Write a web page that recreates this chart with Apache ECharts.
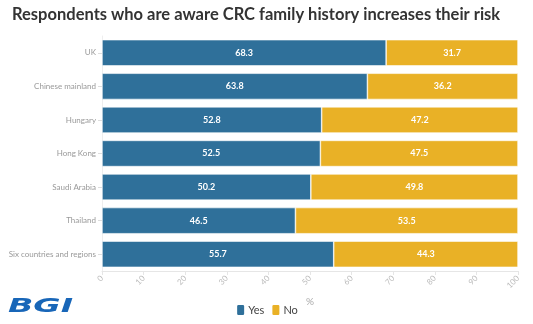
<!DOCTYPE html>
<html><head><meta charset="utf-8">
<script src="https://cdn.jsdelivr.net/npm/echarts@6/dist/echarts.min.js"></script>
<style>html,body{margin:0;padding:0;background:#fff}#c{width:533px;height:324px}</style>
</head><body><div id="c"></div>
<script>
const categories = ["UK","Chinese mainland","Hungary","Hong Kong","Saudi Arabia","Thailand","Six countries and regions"];
const yesValues = [68.3,63.8,52.8,52.5,50.2,46.5,55.7];
const noValues = [31.7,36.2,47.2,47.5,49.8,53.5,44.3];
const xTicks = [0,10,20,30,40,50,60,70,80,90,100];

const chart = echarts.init(document.getElementById('c'));
const lbl = {show:true, position:'inside', color:'#fff', fontWeight:'bold', fontSize:9, fontFamily:'Lato', formatter:p=>p.value.toFixed(1)};
chart.setOption({
  animation:false,
  title:{text:'Respondents who are aware CRC family history increases their risk', left:7, top:1,
    textStyle:{fontFamily:'Lato', fontWeight:'bold', fontSize:16.5, color:'#333'}},
  grid:{left:102, right:15, top:36, bottom:53, containLabel:false, outerBoundsMode:'none'},
  legend:{bottom:2, left:'center', itemWidth:9, itemHeight:12, itemGap:6,
    textStyle:{fontFamily:'Lato', fontSize:11, color:'#444', padding:[0,0,0,-2]}, data:['Yes','No']},
  xAxis:{type:'value', min:0, max:100, interval:10, name:'%', nameLocation:'middle', nameGap:26,
    nameTextStyle:{color:'#aaa', fontSize:10, fontFamily:'Lato'},
    axisLine:{show:true, lineStyle:{color:'#e6e6e6'}}, axisTick:{show:true, length:4, lineStyle:{color:'#e6e6e6'}},
    splitLine:{show:false},
    axisLabel:{rotate:45, color:'#bbb', fontSize:8, fontFamily:'Lato', margin:6, formatter:v=>xTicks.includes(v)?String(v):''}},
  yAxis:{type:'category', data:categories, inverse:true,
    axisLine:{show:true, lineStyle:{color:'#eee'}}, axisTick:{show:true, length:4, alignWithLabel:true, lineStyle:{color:'#ddd'}},
    axisLabel:{color:'#999', fontSize:8, fontFamily:'Lato', margin:6}},
  series:[
    {name:'Yes', type:'bar', stack:'s', data:yesValues, barWidth:'78%', itemStyle:{color:'#2f709a', borderColor:'#fff', borderWidth:0.6}, label:lbl},
    {name:'No', type:'bar', stack:'s', data:noValues, itemStyle:{color:'#e9b126', borderColor:'#fff', borderWidth:0.6}, label:lbl}
  ],
  graphic:[{type:'text', left:8, top:298, style:{text:'BGI', fontSize:19, fontWeight:900, fontStyle:'italic', fontFamily:'DejaVu Sans', fill:'#1866b8'}, scaleX:1.75}]
});
</script></body></html>
